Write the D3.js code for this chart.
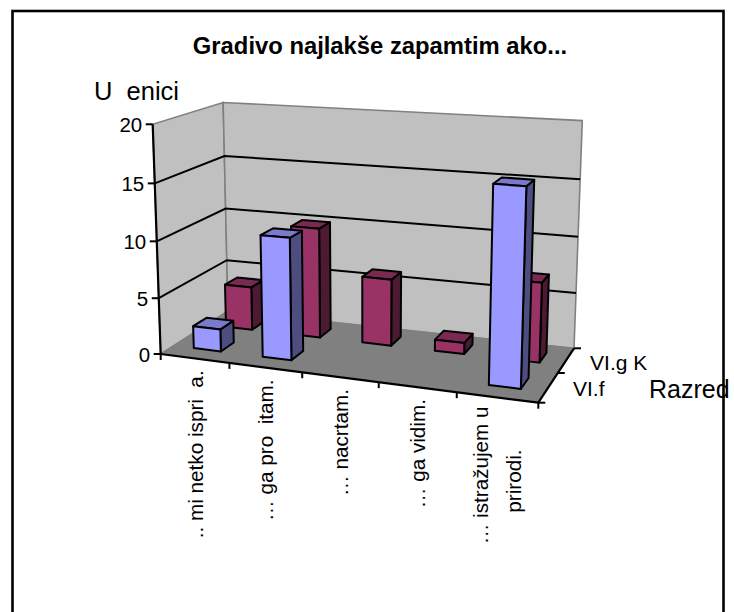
<!DOCTYPE html>
<html>
<head>
<meta charset="utf-8">
<script src="https://cdn.jsdelivr.net/npm/d3@7"></script>
<style>
  html, body { margin: 0; padding: 0; background: #fff; }
  svg { display: block; }
  text { font-family: "Liberation Sans", Arial, sans-serif; fill: #000; white-space: pre; }
</style>
</head>
<body>
<div id="chart"></div>
<script>
var categories = [".. mi netko ispri  a.", "… ga pro  itam.", "… nacrtam.", "… ga vidim.", "… istražujem u|prirodi.  "];
var seriesNames = ["VI.f", "VI.g K"];
var viF = [2, 10.7, 0, 0, 16.5];
var viG = [4, 10, 6, 1, 7];
var valueTicks = [0, 5, 10, 15, 20];

var width = 734, height = 612;
var barShare = 0.4;
var maxVal = 20;

/* corners of the 3D box */
var floorCorners = [[160.7, 354], [538.3, 402.7], [574, 348.3], [228, 311]];
var topLeftFront = [152.7, 124.3], topRightBack = [582.3, 122.3];

/* unit square -> floor quad, plus one vertical direction, all in homogeneous coords */
var q = floorCorners;
var dx1 = q[1][0] - q[2][0], dx2 = q[3][0] - q[2][0], sx = q[0][0] - q[1][0] + q[2][0] - q[3][0];
var dy1 = q[1][1] - q[2][1], dy2 = q[3][1] - q[2][1], sy = q[0][1] - q[1][1] + q[2][1] - q[3][1];
var det = dx1 * dy2 - dx2 * dy1;
var g = (sx * dy2 - dx2 * sy) / det, h = (dx1 * sy - sx * dy1) / det;
var a = q[1][0] - q[0][0] + g * q[1][0], b = q[3][0] - q[0][0] + h * q[3][0];
var d = q[1][1] - q[0][1] + g * q[1][1], e = q[3][1] - q[0][1] + h * q[3][1];
var w11 = g + h + 1;
var vw = ((q[2][0] - topRightBack[0]) * w11 + topLeftFront[0] - q[0][0]) / (topRightBack[0] - topLeftFront[0]);
var vx = topLeftFront[0] * (1 + vw) - q[0][0];
var vy = topLeftFront[1] * (1 + vw) - q[0][1];

var uScale = d3.scaleLinear().domain([0, 1, 2, 3, 4, 5]).range([0, 0.205, 0.41, 0.613, 0.808, 1]);
var vScale = d3.scaleLinear().domain([0, 0.3, seriesNames.length]).range([0, 0.18, 1]);
var kScale = d3.scaleLinear().domain([0, maxVal]).range([0, 1]);

function project(c, s, val) {
  var u = uScale(c), v = vScale(s), k = kScale(val);
  var w = g * u + h * v + 1 + vw * k;
  // heights read about 4% lower on the right hand side than the pure projection gives
  return [(a * u + b * v + q[0][0] + vx * k) / w, (d * u + e * v + q[0][1] + vy * k * (1 - 0.04 * u)) / w];
}
function poly(pts) { return "M" + pts.map(function(p) { return p.join(","); }).join("L") + "Z"; }
function seg(sel, p0, p1, color, sw) {
  sel.append("line").attr("x1", p0[0]).attr("y1", p0[1]).attr("x2", p1[0]).attr("y2", p1[1])
    .attr("stroke", color).attr("stroke-width", sw);
}

var svg = d3.select("#chart").append("svg").attr("width", width).attr("height", height);

/* outer frame */
svg.append("rect").attr("x", 12.5).attr("y", 11).attr("width", 711).attr("height", 640)
  .attr("fill", "#fff").attr("stroke", "#000").attr("stroke-width", 2.6);

svg.append("text").attr("x", 380).attr("y", 53.5).attr("text-anchor", "middle")
  .attr("font-size", 23.8).attr("font-weight", "bold").text("Gradivo najlakše zapamtim ako...");

var nc = categories.length, ns = seriesNames.length;

/* walls and floor */
var walls = svg.append("g");
walls.append("path").attr("d", poly([project(0, 0, 0), project(0, ns, 0), project(0, ns, maxVal), project(0, 0, maxVal)]))
  .attr("fill", "#c0c0c0").attr("stroke", "#808080").attr("stroke-width", 1.6);
walls.append("path").attr("d", poly([project(0, ns, 0), project(nc, ns, 0), project(nc, ns, maxVal), project(0, ns, maxVal)]))
  .attr("fill", "#c0c0c0").attr("stroke", "#808080").attr("stroke-width", 1.6);
walls.append("path").attr("d", poly([project(0, 0, 0), project(nc, 0, 0), project(nc, ns, 0), project(0, ns, 0)]))
  .attr("fill", "#808080").attr("stroke", "#808080").attr("stroke-width", 1);

/* gridlines */
valueTicks.slice(1, -1).forEach(function(t) {
  var path = [project(0, 0, t), project(0, ns, t), project(nc, ns, t)];
  walls.append("path").attr("d", "M" + path.map(function(p) { return p.join(","); }).join("L"))
    .attr("fill", "none").attr("stroke", "#000").attr("stroke-width", 2);
});

/* axes */
var axes = svg.append("g");
seg(axes, project(0, 0, 0), project(0, 0, maxVal), "#000", 2.2);
seg(axes, project(0, 0, 0), project(nc, 0, 0), "#000", 2.2);
seg(axes, project(nc, 0, 0), project(nc, ns, 0), "#000", 2.2);
valueTicks.forEach(function(t) {
  var p = project(0, 0, t);
  seg(axes, p, [p[0] - 7, p[1]], "#000", 2);
  axes.append("text").attr("x", p[0] - 10.5).attr("y", p[1] + 7.5).attr("text-anchor", "end")
    .attr("font-size", 20.5).text(t);
});
d3.range(nc + 1).forEach(function(c) {
  var p = project(c, 0, 0);
  seg(axes, p, [p[0], p[1] + 6], "#000", 2);
});
d3.range(ns + 1).forEach(function(s) {
  var p = project(nc, s, 0);
  seg(axes, p, [p[0] + 7, p[1]], "#000", 2);
});

/* category labels, rotated, can wrap to two lines */
categories.forEach(function(label, c) {
  var p = project(c + 0.5, 0, 0);
  var lines = label.split("|");
  var lab = axes.append("g").attr("transform", "translate(" + (p[0] + 1) + "," + (p[1] + 12) + ") rotate(-90)");
  var x0 = lines.length > 1 ? -66 : 0;
  lines.forEach(function(l, i) {
    lab.append("text").attr("x", x0).attr("y", (i - (lines.length - 1) / 2) * 33 + 7)
      .attr("text-anchor", lines.length > 1 ? "middle" : "end")
      .attr("font-size", 20.7).text(l);
  });
});

/* series names and axis titles */
seriesNames.forEach(function(name, s) {
  var p = project(nc, s + 0.5, 0);
  axes.append("text").attr("x", p[0] + 24).attr("y", p[1] + 10).attr("font-size", 21).text(name);
});
svg.append("text").attr("x", 94).attr("y", 100).attr("font-size", 25.5).text("U  enici");
svg.append("text").attr("x", 649).attr("y", 398).attr("font-size", 25).text("Razred");

/* bars, back row first */
var rows = [
  {values: viG, s: 1, front: "#993366", topc: "#7a2952", side: "#4d1a33"},
  {values: viF, s: 0, front: "#9999ff", topc: "#7a7acc", side: "#4d4d80"}
];
var barsG = svg.append("g");
rows.forEach(function(row) {
  row.values.forEach(function(val, c) {
    if (!val) return;
    var pad = (1 - barShare) / 2;
    var c0 = c + pad, c1 = c + 1 - pad, s0 = row.s + pad, s1 = row.s + 1 - pad;
    var faces = [
      [[project(c1, s0, 0), project(c1, s1, 0), project(c1, s1, val), project(c1, s0, val)], row.side],
      [[project(c0, s0, val), project(c1, s0, val), project(c1, s1, val), project(c0, s1, val)], row.topc],
      [[project(c0, s0, 0), project(c1, s0, 0), project(c1, s0, val), project(c0, s0, val)], row.front]
    ];
    faces.forEach(function(f) {
      barsG.append("path").attr("d", poly(f[0])).attr("fill", f[1])
        .attr("stroke", "#000").attr("stroke-width", 2).attr("stroke-linejoin", "round");
    });
  });
});
</script>
</body>
</html>
